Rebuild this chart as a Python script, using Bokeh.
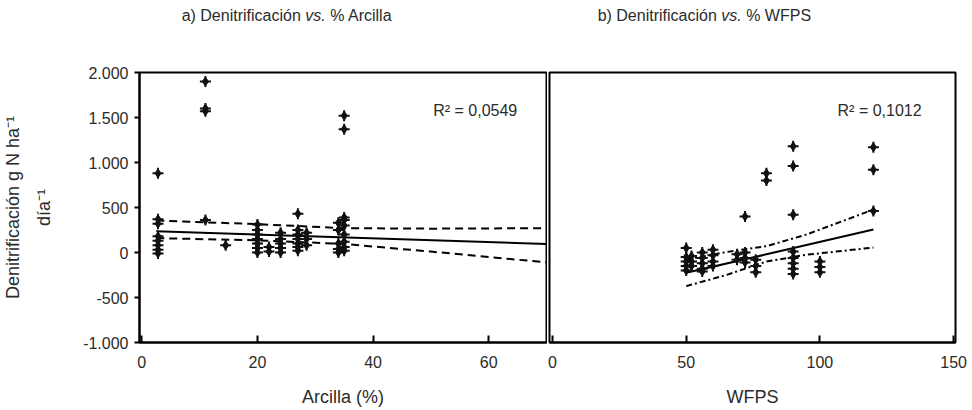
from bokeh.plotting import figure
from bokeh.layouts import row, column
from bokeh.models import Label, FixedTicker, Range1d
from bokeh.embed import file_html
from bokeh.resources import INLINE

FONT = "Liberation Sans"
TXT = "#2b2b2b"

# ---------------- panel a: denitrification vs clay (%) ----------------
clay_pct = [2.8, 2.8, 2.8, 2.8, 2.8, 2.8, 2.8, 2.8,
            11, 11, 11, 11,
            14.5,
            20, 20, 20, 20, 20, 20, 20,
            22, 22,
            24, 24, 24, 24, 24,
            27, 27, 27, 27, 27, 27, 27,
            28.5, 28.5, 28.5,
            34, 34, 34, 34, 34,
            35, 35, 35, 35, 35, 35, 35, 35, 35]
clay_denit = [880, 370, 320, 180, 130, 80, 30, -10,
              1900, 1600, 1570, 360,
              80,
              310, 250, 200, 150, 100, 50, 0,
              60, 10,
              220, 150, 100, 50, 0,
              430, 250, 200, 150, 100, 60, 20,
              220, 150, 80,
              330, 250, 100, 40, 0,
              1520, 1370, 390, 360, 300, 200, 120, 60, 20]
clay_fit_x = [2.5, 70]
clay_fit_y = [235, 95]
clay_band_x = [2.5, 20, 35, 50, 70]
clay_upper = [355, 315, 270, 265, 270]
clay_lower = [160, 135, 95, 10, -110]
clay_r2 = "R² = 0,0549"

# ---------------- panel b: denitrification vs WFPS ----------------
wfps = [50, 50, 50, 50, 50,
        52, 52, 52,
        56, 56, 56, 56, 56,
        60, 60, 60, 60,
        69, 69,
        72, 72, 72, 72,
        76, 76, 76,
        80, 80,
        90, 90, 90, 90, 90, 90, 90, 90,
        100, 100, 100,
        120, 120, 120]
wfps_denit = [50, -50, -100, -150, -200,
              -40, -100, -150,
              0, -60, -120, -180, -210,
              30, -30, -100, -150,
              -20, -80,
              400, 0, -60, -110,
              -80, -150, -220,
              880, 800,
              1180, 960, 420, 10, -60, -120, -180, -240,
              -100, -160, -220,
              1170, 920, 460]
wfps_fit_x = [50, 120]
wfps_fit_y = [-226, 255]
wfps_band_x = [50, 65, 80, 95, 120]
wfps_upper = [-78, 5, 70, 200, 477]
wfps_lower = [-374, -250, -100, -25, 55]
wfps_r2 = "R² = 0,1012"

y_ticks = [-1000, -500, 0, 500, 1000, 1500, 2000]
y_tick_labels = ["-1.000", "-500", "0", "500", "1.000", "1.500", "2.000"]
clay_ticks = [0, 20, 40, 60]
wfps_ticks = [0, 50, 100, 150]

TITLE_H = 36
H = 374


def style(p):
    p.xgrid.visible = False
    p.ygrid.visible = False
    p.outline_line_color = "black"
    p.outline_line_width = 2
    p.background_fill_color = "white"
    p.border_fill_color = "white"
    for ax in p.axis:
        ax.axis_line_color = "black"
        ax.axis_line_width = 2
        ax.major_tick_line_color = "black"
        ax.major_tick_line_width = 2
        ax.minor_tick_line_color = None
        ax.major_label_text_font = FONT
        ax.major_label_text_font_size = "16px"
        ax.major_label_text_color = TXT
        ax.axis_label_text_font = FONT
        ax.axis_label_text_font_size = "18px"
        ax.axis_label_text_font_style = "normal"
        ax.axis_label_text_color = TXT


def points(p, xs, ys):
    p.scatter(xs, ys, marker="diamond", size=9, color="#111111")
    p.scatter(xs, ys, marker="cross", size=11, line_width=2, color="#111111")


def title(p, x_vs, y, left, right, gap):
    p.add_layout(Label(x=x_vs - gap, y=y, text=left, text_align="right", text_baseline="middle",
                       text_font=FONT, text_font_size="16px", text_color=TXT))
    p.add_layout(Label(x=x_vs, y=y, text="vs.", text_align="center", text_baseline="middle",
                       text_font=FONT, text_font_size="16px", text_font_style="italic", text_color=TXT))
    p.add_layout(Label(x=x_vs + gap, y=y, text=right, text_align="left", text_baseline="middle",
                       text_font=FONT, text_font_size="16px", text_color=TXT))


# ---------------- title strip ----------------
pt = figure(width=972, height=TITLE_H, output_backend="svg", toolbar_location=None,
            x_range=Range1d(0, 972), y_range=Range1d(0, TITLE_H),
            x_axis_location=None, y_axis_location=None,
            min_border_left=0, min_border_right=0, min_border_top=0, min_border_bottom=0)
pt.xgrid.visible = False
pt.ygrid.visible = False
pt.outline_line_color = None
pt.background_fill_color = "white"
pt.border_fill_color = "white"
title(pt, 315, 21, "a) Denitrificación", "% Arcilla", 14.7)
title(pt, 731, 21, "b) Denitrificación", "% WFPS", 14.7)

# ---------------- left figure ----------------
p1 = figure(width=547, height=H, output_backend="svg", toolbar_location=None,
            x_range=Range1d(-0.4, 70), y_range=Range1d(-1000, 2000),
            min_border_left=136, min_border_right=1, min_border_top=36, min_border_bottom=68)
style(p1)
p1.xaxis.ticker = FixedTicker(ticks=clay_ticks)
p1.xaxis.major_tick_in = 7
p1.xaxis.major_tick_out = 0
p1.xaxis.major_label_standoff = 13
p1.xaxis.axis_label = "Arcilla (%)"
p1.xaxis.axis_label_standoff = 16
p1.yaxis.ticker = FixedTicker(ticks=y_ticks)
p1.yaxis.major_label_overrides = {t: s for t, s in zip(y_ticks, y_tick_labels)}
p1.yaxis.major_tick_in = 0
p1.yaxis.major_tick_out = 5
p1.yaxis.major_label_standoff = 6
p1.yaxis.axis_label = "Denitrificación g N ha⁻¹\ndía⁻¹"
p1.yaxis.axis_label_standoff = 26
p1.yaxis.axis_label_text_line_height = 1.55

p1.line(clay_fit_x, clay_fit_y, line_color="black", line_width=2)
p1.line(clay_band_x, clay_upper, line_color="black", line_width=2, line_dash="8 5")
p1.line(clay_band_x, clay_lower, line_color="black", line_width=2, line_dash="8 5")
points(p1, clay_pct, clay_denit)
p1.add_layout(Label(x=50.4, y=1578, text=clay_r2, text_align="left", text_baseline="middle",
                    text_font=FONT, text_font_size="16px", text_color=TXT))

# ---------------- right figure ----------------
p2 = figure(width=425, height=H, output_backend="svg", toolbar_location=None,
            x_range=Range1d(-1.12, 150.7), y_range=Range1d(-1000, 2000),
            y_axis_location=None,
            min_border_left=2, min_border_right=17, min_border_top=36, min_border_bottom=68)
style(p2)
p2.xaxis.ticker = FixedTicker(ticks=wfps_ticks)
p2.xaxis.major_tick_in = 7
p2.xaxis.major_tick_out = 0
p2.xaxis.major_label_standoff = 13
p2.xaxis.axis_label = "WFPS"
p2.xaxis.axis_label_standoff = 16

p2.line(wfps_fit_x, wfps_fit_y, line_color="black", line_width=2)
p2.line(wfps_band_x, wfps_upper, line_color="black", line_width=2, line_dash="6 3 2 3")
p2.line(wfps_band_x, wfps_lower, line_color="black", line_width=2, line_dash="6 3 2 3")
points(p2, wfps, wfps_denit)
p2.add_layout(Label(x=106.6, y=1578, text=wfps_r2, text_align="left", text_baseline="middle",
                    text_font=FONT, text_font_size="16px", text_color=TXT))

layout = column(pt, row(p1, p2))
open("out.html", "w").write(file_html(layout, INLINE))
